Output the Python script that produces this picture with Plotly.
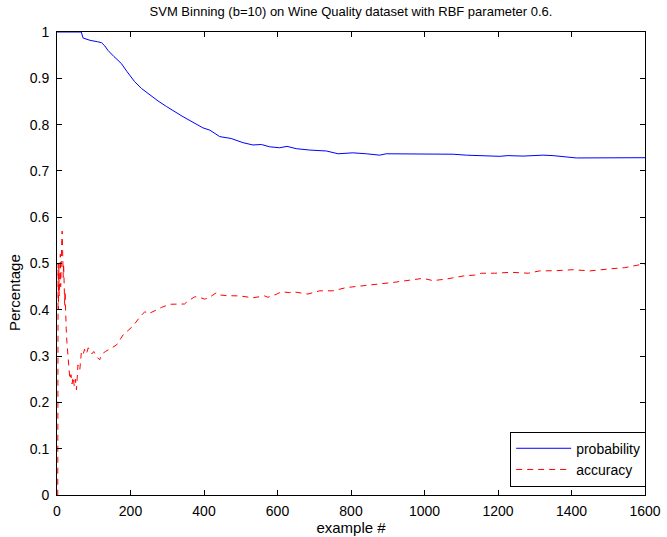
import plotly.graph_objects as go

title_text = "SVM Binning (b=10) on Wine Quality dataset with RBF parameter 0.6."
x_label = "example #"
y_label = "Percentage"
x_ticks = [0, 200, 400, 600, 800, 1000, 1200, 1400, 1600]
y_ticks = [0, 0.1, 0.2, 0.3, 0.4, 0.5, 0.6, 0.7, 0.8, 0.9, 1]
y_tick_text = ["0", "0.1", "0.2", "0.3", "0.4", "0.5", "0.6", "0.7", "0.8", "0.9", "1"]

prob_x = [0, 66, 71, 90, 110, 121, 130, 139, 155, 175, 190, 211, 230, 252, 275, 298,
          320, 343, 370, 397, 416, 443, 474, 506, 533, 556, 579, 606, 626, 651, 688,
          733, 765, 805, 842, 878, 896, 951, 987, 1014, 1078, 1114, 1205, 1227, 1268,
          1322, 1350, 1413, 1495, 1568, 1600]
prob_y = [1.0, 1.0, 0.987, 0.982, 0.979, 0.977, 0.970, 0.960, 0.947, 0.932, 0.915,
          0.893, 0.878, 0.864, 0.851, 0.839, 0.828, 0.817, 0.805, 0.793, 0.788, 0.774,
          0.770, 0.761, 0.756, 0.757, 0.752, 0.750, 0.753, 0.748, 0.745, 0.743, 0.737,
          0.739, 0.737, 0.734, 0.737, 0.737, 0.7365, 0.736, 0.736, 0.734, 0.7315, 0.733,
          0.732, 0.734, 0.733, 0.728, 0.728, 0.729, 0.7285]

acc_x = [0, 2, 3, 4, 5, 6, 7, 8, 9, 10, 11, 12, 13, 14, 15, 16, 17, 18, 19, 20, 21, 22,
         23, 25, 27, 29, 31, 33, 35, 38, 41, 44, 47, 50, 53, 57, 62, 66, 70, 75, 80, 85,
         89, 95, 100, 106, 111, 116, 120, 125, 132, 139, 148, 162, 180, 193, 207, 225,
         239, 248, 261, 284, 307, 325, 347, 356, 375, 384, 402, 415, 434, 443, 465, 497,
         533, 565, 574, 597, 611, 633, 642, 683, 715, 751, 787, 833, 873, 914, 960, 996,
         1023, 1060, 1105, 1137, 1155, 1191, 1236, 1282, 1313, 1359, 1404, 1450, 1499,
         1545, 1590, 1600]
acc_y = [0, 0, 0.5, 0.4, 0.5, 0.43, 0.5, 0.44, 0.52, 0.45, 0.53, 0.5, 0.55, 0.57, 0.55,
         0.52, 0.47, 0.5, 0.44, 0.47, 0.41, 0.44, 0.38, 0.36, 0.33, 0.30, 0.285, 0.27,
         0.25, 0.26, 0.24, 0.255, 0.235, 0.25, 0.227, 0.281, 0.27, 0.306, 0.30, 0.315,
         0.305, 0.318, 0.313, 0.305, 0.31, 0.30, 0.296, 0.292, 0.30, 0.306, 0.31, 0.313,
         0.317, 0.324, 0.346, 0.356, 0.365, 0.384, 0.396, 0.391, 0.396, 0.405, 0.412,
         0.4125, 0.4125, 0.419, 0.428, 0.428, 0.423, 0.427, 0.437, 0.432, 0.4305, 0.43,
         0.426, 0.43, 0.427, 0.4335, 0.439, 0.437, 0.439, 0.434, 0.441, 0.441, 0.448,
         0.452, 0.455, 0.459, 0.464, 0.468, 0.463, 0.4665, 0.473, 0.475, 0.479, 0.479,
         0.481, 0.479, 0.484, 0.4845, 0.4866, 0.484, 0.488, 0.491, 0.498, 0.499]

FONT = "Liberation Sans, Arial, Helvetica, sans-serif"

fig = go.Figure()
fig.add_trace(go.Scatter(x=prob_x, y=prob_y, mode="lines", name="probability",
                         line=dict(color="#0000ff", width=1)))
fig.add_trace(go.Scatter(x=acc_x, y=acc_y, mode="lines", name="accuracy",
                         line=dict(color="#ff0000", width=1, dash="6px,5px")))

axis_common = dict(showgrid=False, zeroline=False, showline=True, linecolor="black",
                   linewidth=1, mirror="ticks", ticks="inside", ticklen=5,
                   tickcolor="black", automargin=False,
                   tickfont=dict(family=FONT, size=14, color="black"))

fig.update_layout(
    width=667, height=537,
    paper_bgcolor="white", plot_bgcolor="white",
    margin=dict(l=57, r=22, t=32, b=42),
    font=dict(family=FONT, size=13, color="black"),
    title=dict(text=title_text, x=(57 + 645) / 2 / 667, xanchor="center",
               y=1 - 11 / 537, yanchor="middle", yref="container",
               font=dict(family=FONT, size=13, color="black")),
    xaxis=dict(range=[0, 1600], tickvals=x_ticks, ticktext=[str(t) for t in x_ticks],
               title=dict(text=x_label, standoff=0, font=dict(family=FONT, size=15)),
               ticklabelstandoff=3, **axis_common),
    yaxis=dict(range=[0, 1], tickvals=y_ticks, ticktext=y_tick_text,
               ticklabelstandoff=4, **axis_common),
    legend=dict(x=1.002, xanchor="right", y=0.018, yanchor="bottom", bgcolor="white",
                bordercolor="black", borderwidth=1, tracegroupgap=0, itemwidth=55,
                font=dict(family=FONT, size=14, color="black")),
    showlegend=True,
    annotations=[dict(text=y_label, textangle=-90, xref="paper", yref="paper",
                      x=(14 - 57) / 588, y=(495 - 293) / 463, xanchor="center",
                      yanchor="middle", showarrow=False,
                      font=dict(family=FONT, size=15, color="black"))],
)

fig.write_html("out.html")
